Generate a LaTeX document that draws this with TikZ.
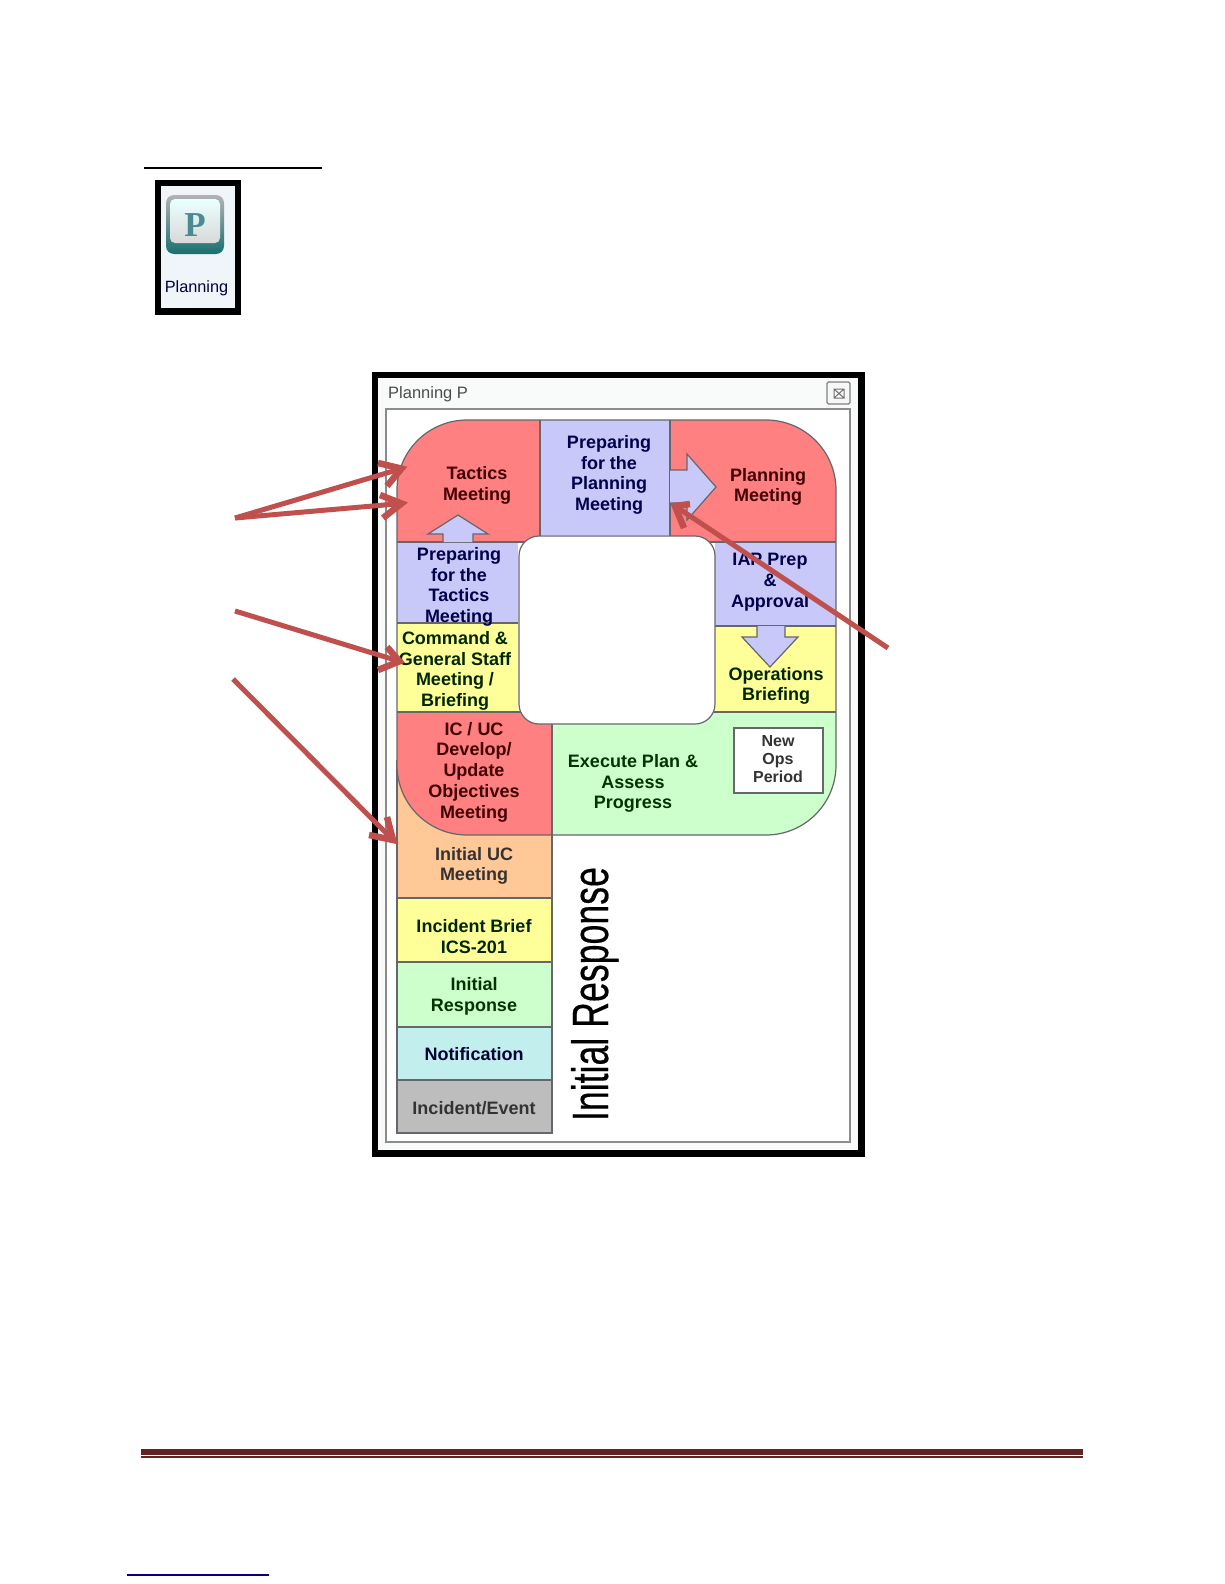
\documentclass[tikz,border=0pt]{standalone}
\usepackage{fontspec}
\usepackage{graphicx}
\setmainfont{Liberation Sans}
\newfontfamily\serifface{Liberation Serif}
\newfontfamily\heavyface[FakeBold=0.35]{Liberation Sans}
\definecolor{pred}{HTML}{FF8080}
\definecolor{pblue}{HTML}{C9C9F9}
\definecolor{pyellow}{HTML}{FFFF99}
\definecolor{pgreen}{HTML}{CCFFCC}
\definecolor{porange}{HTML}{FFC896}
\definecolor{pcyan}{HTML}{C2EEEE}
\definecolor{pgray}{HTML}{BDBDBD}
\definecolor{edgec}{HTML}{66666C}
\definecolor{callout}{HTML}{C0504D}
\definecolor{barc}{HTML}{622423}
\definecolor{iconbg}{HTML}{F0F5FA}
\definecolor{winbg}{HTML}{F9FAFA}
\definecolor{iconp}{HTML}{4C8A92}
\tikzset{
  region/.style={draw=edgec,line width=1.2pt},
  lbl/.style={align=center,inner sep=0pt,font=\fontsize{18}{20.7}\selectfont\bfseries},
  lblsmall/.style={align=center,inner sep=0pt,font=\fontsize{16}{18}\selectfont\bfseries},
  callshaft/.style={draw=callout,line width=5pt},
  callbarb/.style={draw=callout,line width=6.5pt,miter limit=10},
}
\begin{document}
\begin{tikzpicture}[x=1pt,y=-1pt]
\useasboundingbox (0,0) rectangle (1224,1584);
\fill[white] (0,0) rectangle (1224,1584);

% heading rule
\fill[black] (144,167) rectangle (322,169);

% icon
\fill[black] (155,180) rectangle (241,315);
\fill[iconbg] (161,186) rectangle (235,308);
\shade[rounded corners=8pt,top color=black!30,bottom color=teal!75!black!90] (166,195) rectangle (224,254);
\shade[rounded corners=5pt,left color=cyan!8,right color=black!15,shading angle=0] (170,199) rectangle (220,243);
\node[inner sep=0pt,text=iconp] (iconglyph) at (195,225) {\fontsize{35}{35}\selectfont\serifface\bfseries P};
\node[inner sep=0pt,anchor=base,text=black!75!blue] (iconlabel) at (196.5,292) {\fontsize{16.3}{18}\selectfont Planning};

% window
\fill[black] (372,372) rectangle (865,1157);
\fill[winbg] (378,378) rectangle (858,1150);
\draw[draw=black!45,fill=white,line width=1.5pt] (386,409) rectangle (850,1142);
\node[inner sep=0pt,anchor=base west,text=black!70] (wintitle) at (388,398) {\fontsize{16.5}{18}\selectfont Planning P};
\draw[draw=black!50,fill=black!3,line width=1.2pt,rounded corners=1.5pt] (827,382) rectangle (850,404);
\draw[black!55,line width=1pt] (834,389) rectangle (844,398) (834,389) -- (844,398) (834,398) -- (844,389);

% stem of the P
\fill[porange] (397,760) rectangle (552,898);
\draw[region] (397,760) -- (397,898) -- (552,898) -- (552,835);
\draw[region,fill=pyellow] (397,898) rectangle (552,962);
\draw[region,fill=pgreen] (397,962) rectangle (552,1027);
\draw[region,fill=pcyan] (397,1027) rectangle (552,1080);
\draw[region,fill=pgray] (397,1080) rectangle (552,1133);

% bowl of the P
\begin{scope}
\clip[rounded corners=70pt] (397,420) rectangle (836,835);
\fill[pred] (397,420) rectangle (540,542);
\fill[pblue] (540,420) rectangle (670,535);
\fill[pred] (670,420) rectangle (836,542);
\fill[pblue] (397,542) rectangle (518,623);
\fill[pyellow] (397,623) rectangle (518,712);
\fill[pred] (397,712) rectangle (552,835);
\fill[pgreen] (552,712) rectangle (836,835);
\fill[pblue] (715,542) rectangle (836,626);
\fill[pyellow] (715,626) rectangle (836,712);
\draw[region] (540,420) -- (540,542) (670,420) -- (670,542)
  (397,542) -- (836,542) (397,623) -- (518,623) (715,626) -- (836,626)
  (397,712) -- (836,712) (552,712) -- (552,835);
\end{scope}
\draw[region,rounded corners=70pt] (397,420) rectangle (836,835);

% centre void
\draw[region,fill=white,rounded corners=20pt] (519,536) rectangle (715,724);

% block arrows
\fill[pblue] (670,470) -- (687,470) -- (687,454) -- (716,487) -- (687,520) -- (687,503) -- (670,503) -- cycle;
\draw[region] (670,470) -- (687,470) -- (687,454) -- (716,487) -- (687,520) -- (687,503) -- (670,503);
\fill[pblue] (443,542) -- (443,534) -- (428,534) -- (458,515) -- (488,534) -- (473,534) -- (473,542) -- cycle;
\draw[region] (443,542) -- (443,534) -- (428,534) -- (458,515) -- (488,534) -- (473,534) -- (473,542);
\fill[pblue] (757,626) -- (757,637) -- (742,637) -- (770,667) -- (798,637) -- (785,637) -- (785,626) -- cycle;
\draw[region] (757,626) -- (757,637) -- (742,637) -- (770,667) -- (798,637) -- (785,637) -- (785,626);

% new ops box
\draw[draw=edgec,fill=white,line width=1.2pt] (734,728) rectangle (823,793);

% labels
\node[lbl,text=red!25!black] (tactics) at (477,485.5) {Tactics\\Meeting};
\node[lbl,text=blue!30!black] (prepplan) at (609,475) {Preparing\\for the\\Planning\\Meeting};
\node[lbl,text=red!25!black] (planning) at (768,487) {Planning\\Meeting};
\node[lbl,text=blue!30!black] (preptac) at (459,587) {Preparing\\for the\\Tactics\\Meeting};
\node[lbl,text=green!15!black] (command) at (455,671) {Command \&\\General Staff\\Meeting /\\Briefing};
\node[lbl,text=red!25!black] (icuc) at (474,772) {IC / UC\\Develop/\\Update\\Objectives\\Meeting};
\node[lbl,text=green!20!black] (execute) at (633,783.5) {Execute Plan \&\\Assess\\Progress};
\node[lblsmall,text=black!80] (newops) at (778,759.5) {New\\Ops\\Period};
\node[lbl,text=blue!30!black] (iap) at (770,582) {IAP Prep\\\&\\Approval};
\node[lbl,text=green!15!black] (opsbrief) at (776,686) {Operations\\Briefing};
\node[lbl,text=black!80] (initialuc) at (474,866) {Initial UC\\Meeting};
\node[lbl,text=green!15!black] (incbrief) at (474,936.5) {Incident Brief\\ICS-201};
\node[lbl,text=green!20!black] (initresp) at (474,996.5) {Initial\\Response};
\node[lbl,text=blue!20!black] (notif) at (474,1054.5) {Notification};
\node[lbl,text=black!80] (incevent) at (474,1108.5) {Incident/Event};
\node[inner sep=0pt,anchor=base,rotate=90] (initvert) at (608,994) {\scalebox{0.7}[1]{\fontsize{51}{51}\selectfont\heavyface Initial Response}};

% callout arrows
\coordinate (ca) at (235,518);
\coordinate (ta) at (401.5,468.6);
\coordinate (ta1) at (378,463);
\coordinate (ta2) at (387,486);
\coordinate (tb) at (401.5,503.5);
\coordinate (tb1) at (380,495);
\coordinate (tb2) at (383,518);
\coordinate (cc) at (235,611);
\coordinate (tc) at (399.5,661.3);
\coordinate (tc1) at (387,647);
\coordinate (tc2) at (378,670);
\coordinate (cd) at (233,679);
\coordinate (td) at (393,840);
\coordinate (td1) at (387,817);
\coordinate (td2) at (369,835);
\coordinate (ce) at (888,648);
\coordinate (te) at (675,506);
\coordinate (te1) at (690,504);
\coordinate (te2) at (684,528);
\draw[callshaft] (ca) -- (ta);
\draw[callbarb] (ta1) -- (ta) -- (ta2);
\draw[callshaft] (ca) -- (tb);
\draw[callbarb] (tb1) -- (tb) -- (tb2);
\draw[callshaft] (cc) -- (tc);
\draw[callbarb] (tc1) -- (tc) -- (tc2);
\draw[callshaft] (cd) -- (td);
\draw[callbarb] (td1) -- (td) -- (td2);
\draw[callshaft] (ce) -- (te);
\draw[callbarb] (te1) -- (te) -- (te2);

% footer rules
\fill[barc] (141,1449) rectangle (1083,1455);
\fill[barc] (141,1456.2) rectangle (1083,1458);
\fill[blue!50!black] (127,1574.4) rectangle (269,1575.8);
\end{tikzpicture}
\end{document}
